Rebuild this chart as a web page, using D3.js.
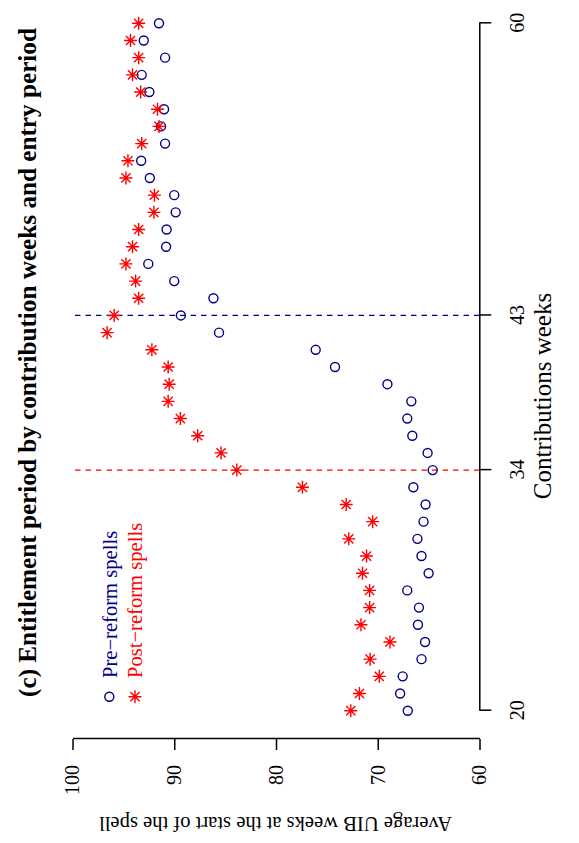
<!DOCTYPE html>
<html>
<head>
<meta charset="utf-8">
<script src="https://cdn.jsdelivr.net/npm/d3@7"></script>
<style>
html,body{margin:0;padding:0;background:#fff;}
svg{display:block;}
text{font-family:"Liberation Serif","Times New Roman",serif;}
</style>
</head>
<body>
<div id="chart"></div>
<script>
// Data (contribution weeks 20..60)
const weeks = [20,21,22,23,24,25,26,27,28,29,30,31,32,33,34,35,36,37,38,39,40,41,42,43,44,45,46,47,48,49,50,51,52,53,54,55,56,57,58,59,60];
const preReform = [67.05,67.8,67.55,65.7,65.35,66.05,65.95,67.1,65.0,65.7,66.1,65.5,65.3,66.5,64.6,65.1,66.6,67.1,66.7,69.05,74.2,76.1,85.6,89.35,86.15,90.0,92.55,90.8,90.75,89.86,90.0,92.4,93.25,90.9,91.3,91.0,92.45,93.2,90.9,93.0,91.5];
const postReform = [72.65,71.8,69.85,70.75,68.8,71.65,70.8,70.8,71.5,71.1,72.85,70.5,73.1,77.4,83.85,85.4,87.7,89.4,90.6,90.5,90.6,92.2,96.6,95.9,93.5,93.8,94.75,94.1,93.5,92.0,91.95,94.75,94.55,93.2,91.5,91.65,93.3,94.1,93.5,94.3,93.5];
const xTicks = [20,34,43,60];
const yTicks = [60,70,80,90,100];
const cutoffs = [34,43];
const seriesNames = ["Pre\u2212reform spells","Post\u2212reform spells"];
const title = "(c) Entitlement period by contribution weeks and entry period";
const xLabel = "Contributions weeks";
const yLabel = "Average UIB weeks at the start of the spell";

const W = 579, H = 843;        // screen
const blue = "#00008B", red = "#FF0000";

const svg = d3.select("#chart").append("svg").attr("width", W).attr("height", H);
const g = svg.append("g").attr("transform", `translate(0,${H}) rotate(-90)`);

const x = d3.scaleLinear().domain([20,60]).range([132.3, 819.7]);
const y = d3.scaleLinear().domain([60,100]).range([479.5, 72.5]);

// title
g.append("text").attr("x", 480.5).attr("y", 36).attr("text-anchor","middle")
  .attr("font-weight","bold").attr("font-size", 25.2).text(title);

// dashed cutoff lines
g.selectAll("line.cut").data(cutoffs).enter().append("line")
  .attr("x1", d => x(d)).attr("x2", d => x(d))
  .attr("y1", y(60)).attr("y2", y(100))
  .attr("stroke", (d,i) => i === 0 ? red : blue)
  .attr("stroke-width", 1.3).attr("stroke-dasharray", "5.5,5");

// axes
const yAxis = d3.axisLeft(y).tickValues(yTicks).tickSize(11).tickSizeOuter(0).tickPadding(15).tickFormat(d3.format("d"));
const ya = g.append("g").attr("transform", "translate(104,0)").call(yAxis);
const xAxis = d3.axisBottom(x).tickValues(xTicks).tickSize(12).tickSizeOuter(0).tickPadding(19).tickFormat(d3.format("d"));
const xa = g.append("g").attr("transform", "translate(0,479.3)").call(xAxis);
[ya, xa].forEach(a => {
  a.selectAll("path,line").attr("stroke","#000").attr("stroke-width",1.5);
  a.selectAll("text").attr("font-size",20).attr("fill","#000")
   .attr("font-family","'Liberation Serif','Times New Roman',serif");
});

// axis labels
g.append("text").attr("x", 447).attr("y", 551).attr("text-anchor","middle")
  .attr("font-size", 25).text(xLabel);
g.append("text").attr("transform", `translate(26,${275.5}) rotate(-90)`)
  .attr("text-anchor","middle").attr("font-size", 20.6).text(yLabel);

// points
const pts = weeks.map((w,i) => ({w, pre: preReform[i], post: postReform[i]}));
g.selectAll("circle.pre").data(pts).enter().append("circle")
  .attr("cx", d => x(d.w)).attr("cy", d => y(d.pre)).attr("r", 4.5)
  .attr("fill","none").attr("stroke", blue).attr("stroke-width", 1.4);

function star(sel, color) {
  const L = 6.5, D = L/Math.SQRT2;
  sel.append("path")
    .attr("d", `M${-L},0H${L}M0,${-L}V${L}M${-D},${-D}L${D},${D}M${-D},${D}L${D},${-D}`)
    .attr("stroke", color).attr("stroke-width", 1.4).attr("fill","none");
}
const stars = g.selectAll("g.post").data(pts).enter().append("g")
  .attr("transform", d => `translate(${x(d.w)},${y(d.post)})`);
star(stars, red);

// legend
const lg = g.append("g");
lg.append("circle").attr("cx", 146.3).attr("cy", 109.3).attr("r", 4.5)
  .attr("fill","none").attr("stroke", blue).attr("stroke-width", 1.4);
star(lg.append("g").attr("transform","translate(146.3,135)"), red);
lg.append("text").attr("x", 165).attr("y", 109.3).attr("dy","0.35em")
  .attr("font-size", 20.6).attr("fill", blue).text(seriesNames[0]);
lg.append("text").attr("x", 165).attr("y", 135).attr("dy","0.35em")
  .attr("font-size", 20.6).attr("fill", red).text(seriesNames[1]);
</script>
</body>
</html>
